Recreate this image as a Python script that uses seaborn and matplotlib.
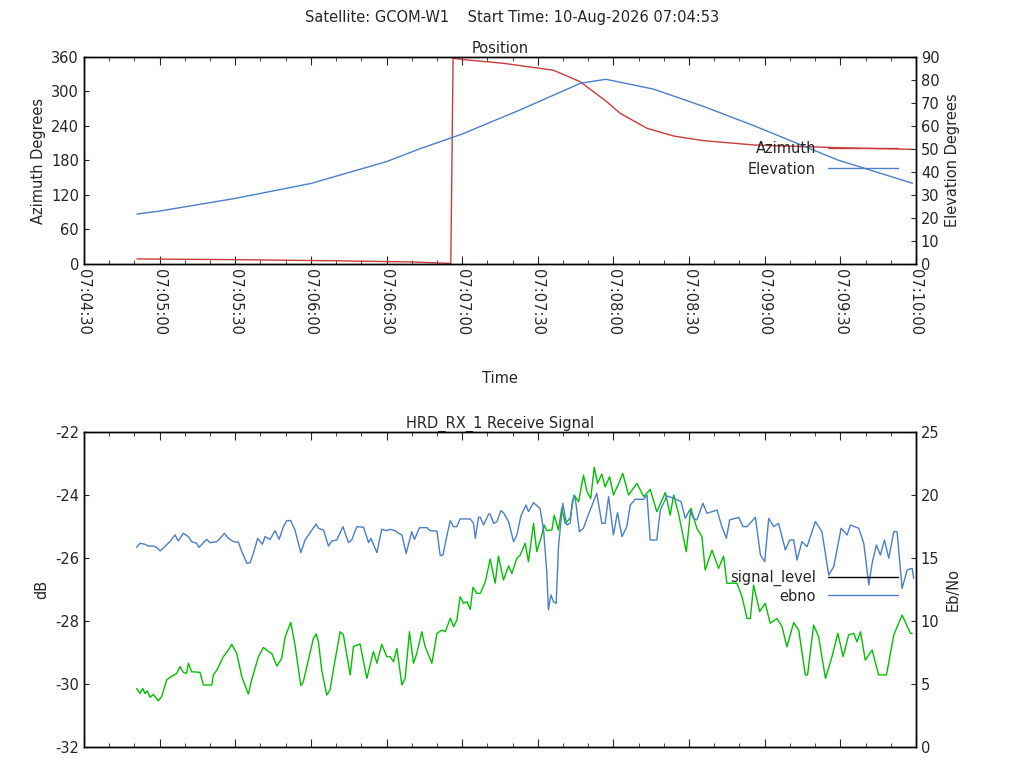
import matplotlib
matplotlib.use("Agg")
import matplotlib.pyplot as plt
import seaborn as sns
import pandas as pd
from matplotlib.ticker import MultipleLocator, FuncFormatter
from matplotlib.lines import Line2D

sns.set_style("white")
plt.rcParams['font.family'] = ['DejaVu Sans']
plt.rcParams['axes.unicode_minus'] = False

# seconds after 07:04:30
az_t = [21, 60, 100, 130, 145, 145.5, 146.4, 149.2, 166.4, 186.2, 196.8, 207.4, 212.7, 223.3, 233.8, 245.7, 265.6, 298.7, 328.4]
az_v = [8.7, 7.5, 5.5, 3.5, 1.0, 0.5, 358, 356, 349, 337, 317, 282, 262, 236, 222.6, 214.5, 207, 202.3, 199.4]
el_t = [21, 30, 60, 90, 120, 133, 150, 173, 197, 207, 226, 246, 266, 299, 328.6]
el_v = [21.7, 23, 28.5, 35, 44.5, 50, 56.5, 67, 78.6, 80.3, 76, 68.4, 60, 45.2, 35.1]

sig_t = [20.9, 22.2, 23.3, 24.2, 25.1, 26.2, 27.5, 29.5, 30.8, 32.8, 34.1, 36.8, 38.1, 39.4, 40.7, 41.4, 42.7, 46.0, 47.4, 50.7,
         51.3, 52.7, 55.3, 57.3, 58.6, 60.6, 62.6, 65.2, 66.5, 69.2, 71.2, 73.2, 74.5, 76.5, 78.4, 79.8, 82.0, 83.7, 86.0, 87.0,
         89.0, 91.0, 92.1, 93.0, 94.3, 96.3, 97.6, 98.9, 101.6, 102.9, 105.6, 106.9, 109.5, 112.2, 114.8, 116.2, 118.1, 120.1, 121.4, 122.8,
         124.1, 126.1, 127.4, 129.1, 130.7, 132.0, 134.0, 135.3, 138.0, 140.0, 142.0, 143.3, 145.3, 146.6, 147.9, 149.2, 150.6, 151.9, 153.2, 154.3,
         155.8, 157.2, 159.2, 161.1, 163.1, 164.4, 166.4, 168.4, 169.7, 171.7, 173.0, 175.0, 176.3, 178.3, 179.6, 181.6, 182.5, 183.6, 185.6, 186.5,
         188.2, 189.5, 190.9, 192.8, 194.4, 196.2, 198.1, 199.5, 201.0, 202.4, 203.7, 205.4, 206.7, 208.5, 210.0, 212.0, 213.7, 216.0, 219.3, 222.0,
         224.6, 227.2, 230.6, 232.5, 233.9, 235.8, 238.9, 240.7, 243.1, 245.1, 246.4, 249.1, 251.7, 253.7, 255.0, 259.0, 261.0, 263.0, 264.3, 265.6,
         268.0, 270.2, 272.2, 274.9, 276.9, 278.8, 281.5, 283.5, 286.1, 287.0, 289.4, 291.4, 294.1, 296.7, 299.0, 301.1, 303.3, 305.3, 306.6, 308.0,
         309.9, 312.6, 315.2, 318.3, 321.2, 324.5, 327.8, 328.5]
sig_v = [-30.14, -30.30, -30.14, -30.30, -30.22, -30.42, -30.33, -30.53, -30.40, -29.87, -29.79, -29.66, -29.45, -29.63, -29.66, -29.34, -29.61, -29.63, -30.03, -30.03,
         -29.71, -29.56, -29.13, -28.92, -28.74, -29.03, -29.77, -30.32, -29.87, -29.13, -28.84, -28.97, -29.03, -29.43, -29.19, -28.50, -28.04, -28.76, -30.05, -29.93,
         -29.24, -28.55, -28.41, -28.66, -29.56, -30.35, -30.19, -29.56, -28.34, -28.44, -29.71, -28.81, -28.73, -29.82, -28.97, -29.34, -28.74, -29.13, -29.13, -29.29,
         -28.87, -30.03, -29.82, -28.34, -29.34, -29.03, -28.34, -28.81, -29.34, -28.39, -28.29, -28.34, -27.91, -28.18, -27.97, -27.23, -27.44, -27.39, -27.63, -26.93,
         -27.12, -27.12, -26.75, -26.03, -26.80, -25.94, -26.70, -26.25, -26.49, -26.01, -25.91, -25.53, -26.12, -24.90, -25.80, -25.27, -24.95, -25.13, -25.11, -24.64,
         -25.11, -24.42, -24.90, -24.74, -24.00, -24.21, -23.37, -23.89, -24.11, -23.12, -23.63, -23.33, -23.74, -23.42, -24.00, -23.65, -23.31, -24.00, -23.63, -24.05,
         -23.82, -24.53, -23.92, -24.64, -24.00, -24.58, -25.80, -24.42, -25.06, -25.32, -26.38, -25.75, -26.33, -25.94, -26.80, -26.80, -27.23, -27.92, -27.92, -26.86,
         -27.70, -27.44, -28.07, -27.92, -28.18, -28.82, -28.05, -28.29, -29.71, -29.71, -28.13, -28.50, -29.82, -29.13, -28.39, -29.13, -28.44, -28.39, -28.66, -28.34,
         -29.24, -28.92, -29.71, -29.71, -28.44, -27.81, -28.39, -28.39]

eb_t = [20.9, 22.2, 24.2, 25.5, 27.5, 28.8, 30.2, 34.1, 36.1, 37.4, 39.4, 41.4, 42.7, 44.7, 45.6, 48.7, 50.0, 52.7, 54.0, 55.7,
        57.3, 59.3, 61.3, 62.6, 64.6, 65.9, 67.2, 68.9, 70.8, 71.8, 73.8, 75.8, 77.4, 79.1, 80.4, 82.0, 83.7, 86.0, 87.7, 90.4,
        92.1, 93.0, 95.0, 97.0, 98.3, 100.3, 102.7, 104.9, 106.2, 108.2, 110.9, 112.9, 113.8, 116.2, 118.1, 120.1, 121.4, 123.4, 124.8, 126.1,
        127.8, 130.0, 131.1, 133.1, 136.0, 137.3, 140.0, 141.3, 142.4, 144.0, 145.3, 146.6, 147.9, 149.2, 153.2, 154.5, 155.2, 156.5, 157.2, 158.5,
        160.5, 161.1, 162.5, 163.8, 165.4, 166.4, 168.4, 170.4, 171.7, 173.3, 175.3, 176.3, 178.3, 180.9, 182.3, 183.6, 184.2, 185.2, 186.2, 187.3,
        188.2, 189.9, 191.5, 192.8, 193.8, 194.8, 196.5, 198.1, 199.5, 200.8, 203.4, 205.4, 206.7, 208.1, 210.0, 211.6, 213.4, 215.3, 216.7, 218.6,
        222.0, 223.3, 224.6, 227.2, 228.6, 231.2, 233.9, 236.8, 238.5, 240.2, 241.8, 243.1, 245.5, 247.1, 249.1, 251.1, 253.0, 254.8, 256.1, 259.7,
        261.4, 263.0, 266.3, 268.3, 270.0, 271.6, 273.6, 275.5, 278.2, 279.9, 281.5, 282.8, 284.8, 286.8, 290.1, 292.7, 295.4, 297.4, 300.3, 302.7,
        304.0, 307.3, 309.3, 311.3, 312.6, 314.3, 315.9, 317.5, 319.2, 321.2, 322.5, 324.5, 326.5, 328.5, 329.1]
eb_v = [15.85, 16.17, 16.09, 15.95, 15.95, 15.85, 15.56, 16.30, 16.83, 16.35, 16.96, 16.70, 16.30, 16.17, 15.85, 16.48, 16.22, 16.30, 16.56, 16.96,
        16.56, 16.30, 16.25, 15.50, 14.58, 14.63, 15.37, 16.56, 16.09, 16.70, 16.48, 17.17, 16.48, 17.49, 17.97, 17.97, 17.22, 15.43, 16.43, 17.22,
        17.70, 17.36, 17.22, 15.95, 16.35, 16.43, 17.49, 16.22, 16.43, 17.49, 17.44, 16.22, 16.56, 15.43, 17.28, 17.17, 17.28, 17.17, 16.96, 16.83,
        15.37, 17.09, 16.48, 17.41, 17.41, 17.17, 17.14, 15.19, 15.24, 16.83, 17.97, 17.49, 17.49, 18.10, 18.10, 17.75, 16.56, 18.23, 18.23, 17.62,
        18.49, 18.49, 17.75, 17.89, 18.76, 18.60, 17.89, 16.30, 16.83, 18.33, 19.21, 18.68, 19.39, 18.94, 17.22, 13.79, 10.88, 12.07, 11.54, 11.40,
        15.90, 19.34, 17.62, 17.75, 19.61, 19.87, 17.09, 17.36, 18.15, 18.81, 20.14, 17.75, 17.75, 19.87, 16.83, 18.60, 16.70, 17.49, 19.21, 19.66,
        19.66, 20.00, 16.43, 16.43, 18.81, 19.92, 19.74, 19.47, 18.15, 18.81, 18.15, 18.02, 19.34, 18.55, 18.68, 18.81, 17.49, 16.56, 18.02, 18.23,
        17.49, 17.49, 18.23, 15.24, 14.71, 18.15, 17.49, 17.75, 15.64, 16.43, 16.43, 14.84, 16.30, 15.90, 17.89, 17.09, 13.65, 14.32, 17.36, 16.83,
        17.62, 17.36, 16.17, 12.86, 14.58, 16.03, 15.24, 16.43, 14.98, 17.09, 17.09, 12.59, 14.05, 14.18, 13.39]

RED = "#c83c3c"
BLUE = "#4a7fc9"
GREEN = "#00c000"

def fmt(x, pos):
    s = int(round(x)) + 4 * 60 + 30
    return "07:%02d:%02d" % (s // 60, s % 60)

def style_x(ax, labels):
    ax.set_xlim(0, 330)
    ax.xaxis.set_major_locator(MultipleLocator(30))
    ax.xaxis.set_minor_locator(MultipleLocator(10))
    ax.tick_params(axis='x', which='both', direction='in', top=True, bottom=True)
    ax.tick_params(axis='x', which='major', length=6)
    ax.tick_params(axis='x', which='minor', length=3)
    if labels:
        ax.xaxis.set_major_formatter(FuncFormatter(fmt))
        for lab in ax.get_xticklabels():
            lab.set_rotation(-90)
    else:
        ax.set_xticklabels([])

FS = 10.5
fig = plt.figure(figsize=(10.24, 7.68), dpi=100)
fig.text(0.5, 0.977, "Satellite: GCOM-W1    Start Time: 10-Aug-2026 07:04:53", ha='center', va='center', fontsize=FS)

ax1 = fig.add_axes([0.082, 0.6563, 0.8125, 0.2695])
ax1b = ax1.twinx()
sns.lineplot(x=az_t, y=az_v, ax=ax1, color=RED, lw=1, sort=False, estimator=None)
sns.lineplot(x=el_t, y=el_v, ax=ax1b, color=BLUE, lw=1, sort=False, estimator=None)
ax1.set_ylim(0, 360); ax1.set_yticks(range(0, 361, 60))
ax1b.set_ylim(0, 90); ax1b.set_yticks(range(0, 91, 10))
ax1.set_ylabel("Azimuth Degrees", fontsize=FS)
ax1b.set_ylabel("Elevation Degrees", fontsize=FS)
ax1.set_xlabel("Time", fontsize=FS, labelpad=26)
ax1.set_title("Position", fontsize=FS, pad=3)
style_x(ax1, True)
for a in (ax1, ax1b):
    a.tick_params(axis='y', direction='in', labelsize=FS)
ax1.tick_params(axis='x', labelsize=FS)
ax1b.legend([Line2D([], [], color=RED, lw=1), Line2D([], [], color=BLUE, lw=1)], ["Azimuth", "Elevation"],
            loc='upper right', bbox_to_anchor=(0.985, 0.62), frameon=False, markerfirst=False,
            fontsize=FS, handlelength=4.8, labelspacing=0.35, borderaxespad=0)

ax2 = fig.add_axes([0.082, 0.0273, 0.8125, 0.4102])
ax2b = ax2.twinx()
sns.lineplot(x=sig_t, y=sig_v, ax=ax2, color=GREEN, lw=1, sort=False, estimator=None)
sns.lineplot(x=eb_t, y=eb_v, ax=ax2b, color=BLUE, lw=1, sort=False, estimator=None)
ax2.set_ylim(-32, -22); ax2.set_yticks(range(-32, -21, 2))
ax2b.set_ylim(0, 25); ax2b.set_yticks(range(0, 26, 5))
ax2.set_ylabel("dB", fontsize=FS)
ax2b.set_ylabel("Eb/No", fontsize=FS)
ax2.set_title("HRD_RX_1 Receive Signal", fontsize=FS, pad=3)
style_x(ax2, False)
for a in (ax2, ax2b):
    a.tick_params(axis='y', direction='in', labelsize=FS)
ax2b.legend([Line2D([], [], color='black', lw=1), Line2D([], [], color=BLUE, lw=1)], ["signal_level", "ebno"],
            loc='upper right', bbox_to_anchor=(0.985, 0.58), frameon=False, markerfirst=False,
            fontsize=FS, handlelength=4.8, labelspacing=0.15, borderaxespad=0)

for a in (ax1, ax1b, ax2, ax2b):
    for s in a.spines.values():
        s.set_color('black'); s.set_linewidth(1)

fig.savefig("out.png", dpi=100)
